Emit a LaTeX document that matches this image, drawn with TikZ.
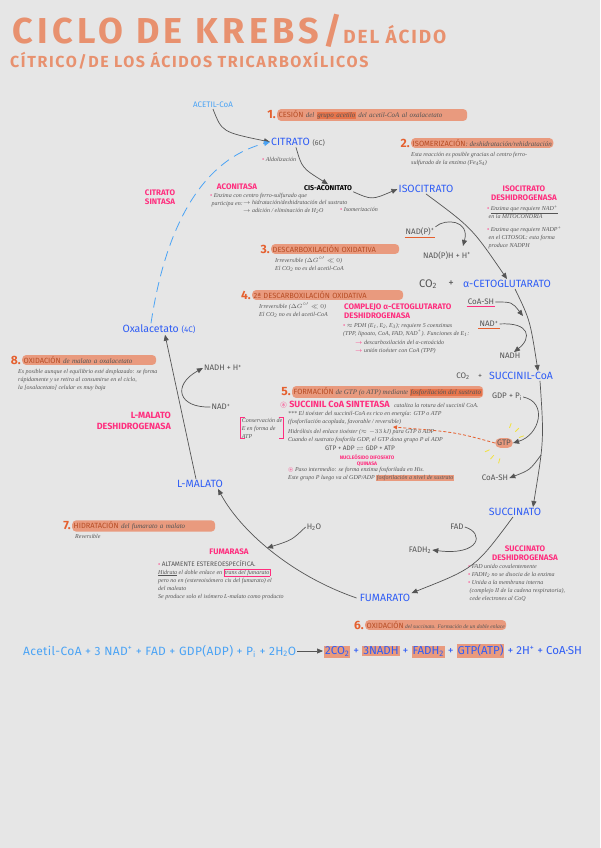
\documentclass[tikz,border=0pt]{standalone}
\usepackage{amssymb}
\usepackage{fontspec}
\setmainfont{Fira Sans}
\newfontfamily\notefont{Liberation Serif}
\usepackage{xcolor}
\usetikzlibrary{arrows.meta, positioning}

\definecolor{paper}{HTML}{E6E6E6}
\definecolor{titleor}{HTML}{E8916F}
\definecolor{stepor}{HTML}{E5602F}
\definecolor{hlsal}{HTML}{E99A7E}
\definecolor{metblue}{HTML}{2F5DF5}
\definecolor{acblue}{HTML}{4AA3F5}
\definecolor{enzpink}{HTML}{FF2E7E}
\definecolor{inkgrey}{HTML}{555555}
\definecolor{gtpyel}{HTML}{F2E23C}

\newcommand{\fsz}[2]{\fontsize{#1}{#2}\selectfont}
\newcommand{\stepcap}[1]{{\normalfont\fsz{7.5}{8}\color{stepor!80!black}#1}}
\newcommand{\pnk}[1]{\textcolor{enzpink}{#1}}
\newcommand{\hlin}[1]{{\fboxsep=0.6pt\colorbox{hlsal}{#1}}}
\newcommand{\hldark}[1]{{\fboxsep=0.6pt\colorbox{stepor!65!hlsal}{#1}}}
\newcommand{\eqhl}[1]{{\fboxsep=1pt\colorbox{hlsal}{#1}}}

\begin{document}
\begin{tikzpicture}[x=1pt, y=-1pt,
  ttl/.style   = {text=titleor, anchor=base west, inner sep=0pt},
  met/.style   = {text=metblue, font=\fsz{10.5}{12}, inner sep=1pt},
  enz/.style   = {text=enzpink, font=\bfseries\fsz{8}{9}, align=center, inner sep=1pt},
  cof/.style   = {text=inkgrey, font=\fsz{8}{9}, inner sep=1pt},
  note/.style  = {text=inkgrey, font=\notefont\itshape\fsz{6}{8},
                  align=left, anchor=north west, inner sep=0pt},
  num/.style   = {text=stepor, font=\bfseries\fsz{12}{12}, anchor=east, inner sep=1pt},
  hl/.style    = {fill=hlsal, rounded corners=4pt, inner sep=1.5pt, align=left,
                  text=inkgrey, font=\notefont\itshape\fsz{7}{8}},
  arr/.style   = {-{Triangle[length=6pt,width=5pt]}, draw=inkgrey, line width=0.7pt},
  dasharr/.style = {-{Triangle[length=6pt,width=5pt]}, draw=acblue,
                  line width=0.8pt, dash pattern=on 10pt off 6pt},
  uline/.style = {stepor, line width=1pt}
]

\fill[paper] (0,0) rectangle (600,848);
\useasboundingbox (0,0) rectangle (600,848);

% title
\node[ttl, font=\bfseries\fsz{36}{36}\addfontfeatures{LetterSpace=12}] (tt1) at (12,44) {CICLO DE KREBS/};
\node[ttl, font=\bfseries\fsz{19}{19}\addfontfeatures{LetterSpace=10}] (tt2) at ([xshift=1pt]tt1.base east) {DEL ÁCIDO};
\node[ttl, font=\bfseries\fsz{16}{16}\addfontfeatures{LetterSpace=10}] (tt3) at (10,68) {CÍTRICO/DE LOS ÁCIDOS TRICARBOXÍLICOS};

% metabolites
\node[met, text=acblue, font=\fsz{8}{9}] (acoa) at (213,105) {ACETIL-CoA};
\node[met] (citr)   at (298,142) {CITRATO {\color{inkgrey}\fsz{7}{8}(6C)}};
\node[cof, text=black, font=\bfseries\fsz{7}{8}] (cisac) at (328,188) {CIS-ACONITATO};
\node[met] (isoc)   at (426,189) {ISOCITRATO};
\node[cof, font=\fsz{11}{12}] (co2a) at (428,284) {CO\textsubscript{2}};
\node[cof, font=\fsz{11}{12}] (plusa) at (451,284) {+};
\node[met] (akg)    at (507,284) {α-CETOGLUTARATO};
\node[cof] (co2b)   at (463,376) {CO\textsubscript{2}};
\node[cof] (plusb)  at (480,376) {+};
\node[met] (succoa) at (521,376) {SUCCINIL-CoA};
\node[met] (succ)   at (515,512) {SUCCINATO};
\node[met] (fum)    at (385,598) {FUMARATO};
\node[met] (lmal)   at (200,484) {L-MALATO};
\node[met] (oxa)    at (159,329) {Oxalacetato {\fsz{8}{9}(4C)}};

% enzymes
\node[enz] (cs)   at (160,197) {CITRATO\\SINTASA};
\node[enz] (acon) at (237,187) {ACONITASA};
\node[enz] (idh)  at (524,193) {ISOCITRATO\\DESHIDROGENASA};
\node[enz, align=left, anchor=north west] (akgdh) at (343,303) {COMPLEJO α-CETOGLUTARATO\\DESHIDROGENASA};
\node[enz, anchor=west, font=\bfseries\fsz{9}{10}] (scs) at (279,405) {$\circledast$ SUCCINIL CoA SINTETASA};
\node[enz, font=\bfseries\fsz{5}{6}] (ndk) at (367,460) {NUCLEÓSIDO DIFOSFATO\\QUINASA};
\node[enz] (sdh)  at (525,553) {SUCCINATO\\DESHIDROGENASA};
\node[enz] (fumz) at (229,552) {FUMARASA};
\node[enz, align=right, anchor=east, font=\bfseries\fsz{9}{11}] (mdh) at (172,421) {L-MALATO\\DESHIDROGENASA};

% cofactors
\node[cof] (nadp)   at (420,232) {NAD(P)\textsuperscript{+}};
\node[cof] (nadph)  at (447,256) {NAD(P)H + H\textsuperscript{+}};
\node[cof] (coash1) at (481,302) {CoA-SH};
\node[cof] (nad1)   at (489,324) {NAD\textsuperscript{+}};
\node[cof] (nadh1)  at (510,356) {NADH};
\node[cof] (gdp)    at (507,397) {GDP + P\textsubscript{i}};
\node[cof, fill=hlsal, rounded corners=5pt, inner sep=2pt] (gtp) at (504,443) {GTP};
\node[cof] (coash2) at (495,478) {CoA-SH};
\node[cof] (fad)    at (457,527) {FAD};
\node[cof] (fadh2)  at (420,550) {FADH\textsubscript{2}};
\node[cof] (h2o)    at (314,527) {H\textsubscript{2}O};
\node[cof] (nad2)   at (221,407) {NAD\textsuperscript{+}};
\node[cof] (nadh2)  at (223,368) {NADH + H\textsuperscript{+}};

\draw[uline] (nadp.south west) -- (nadp.south east);
\draw[uline] (nad1.south west) -- (nad1.south east);
\draw[uline, enzpink] (coash1.south west) -- (coash1.south east);

% steps
\node[num] (n1) at (277,115) {1.};
\node[hl, text width=187pt, right=0pt of n1] (s1) {\stepcap{CESIÓN} del \hldark{grupo acetilo} del acetil-CoA al oxalacetato};
\node[num] (n2) at (411,143) {2.};
\node[hl, right=0pt of n2] (s2) {\stepcap{ISOMERIZACIÓN}: deshidratación/rehidratación};
\node[note] (s2n) at (411,152) {Esta reacción es posible gracias al centro ferro-\\sulfurado de la enzima (Fe\textsubscript{4}S\textsubscript{4})};
\node[num] (n3) at (271,249) {3.};
\node[hl, text width=125pt, right=0pt of n3] (s3) {\stepcap{DESCARBOXILACIÓN OXIDATIVA}};
\node[note] (s3n) at (275,257) {Irreversible ($\Delta G^{\circ\prime}\ll 0$)\\El CO\textsubscript{2} no es del acetil-CoA};
\node[num] (n4) at (252,295) {4.};
\node[hl, text width=148pt, right=0pt of n4] (s4) {\stepcap{2ª DESCARBOXILACIÓN OXIDATIVA}};
\node[note] (s4n) at (259,303) {Irreversible ($\Delta G^{\circ\prime}\ll 0$)\\El CO\textsubscript{2} no es del acetil-CoA};
\node[num] (n5) at (292,392) {5.};
\node[hl, right=0pt of n5] (s5) {\stepcap{FORMACIÓN} de GTP (o ATP) mediante \hldark{fosforilación del sustrato}};
\node[num] (n6) at (365,625) {6.};
\node[hl, font=\notefont\itshape\fsz{5.5}{6}, right=0pt of n6] (s6) {\stepcap{OXIDACIÓN} del succinato. Formación de un doble enlace};
\node[num] (n7) at (72,526) {7.};
\node[hl, text width=140pt, right=0pt of n7] (s7) {\stepcap{HIDRATACIÓN} del fumarato a malato};
\node[note] (s7n) at (75,534) {Reversible};
\node[num] (n8) at (22,360) {8.};
\node[hl, text width=131pt, right=0pt of n8] (s8) {\stepcap{OXIDACIÓN} de malato a oxalacetato};
\node[note] (s8n) at (18,369) {Es posible aunque el equilibrio esté desplazado: se forma\\rápidamente y se retira al consumirse en el ciclo,\\la [oxalacetato] celular es muy baja};

% enzyme notes
\node[note] (citn) at (262,157) {\pnk{\textbullet} Aldolización};
\node[note] (acn1) at (210,193) {\pnk{\textbullet} Enzima con centro ferro-sulfurado que\\ \ participa en:};
\node[note] (acn2) at (243,200) {$\rightarrow$ hidratación/deshidratación del sustrato\\$\rightarrow$ adición / eliminación de H\textsubscript{2}O};
\node[note] (acn3) at (340,207) {\pnk{\textbullet} Isomerización};
\node[note] (idn1) at (487,205) {\pnk{\textbullet} \underline{Enzima que requiere NAD\textsuperscript{+}}\\ \ en la MITOCONDRIA};
\node[note] (idn2) at (487,226) {\pnk{\textbullet} Enzima que requiere NADP\textsuperscript{+}\\ \ en el CITOSOL: esta forma\\ \ produce NADPH};
\node[note] (akn1) at (343,323) {\pnk{\textbullet} $\approx$ PDH (E\textsubscript{1}, E\textsubscript{2}, E\textsubscript{3}); requiere 5 coenzimas\\(TPP, lipoato, CoA, FAD, NAD\textsuperscript{+}). Funciones de E\textsubscript{1}:};
\node[note] (akn2) at (355,340) {\pnk{$\rightarrow$} descarboxilación del α-cetoácido\\\pnk{$\rightarrow$} unión tioéster con CoA (TPP)};
\node[note, anchor=west] (scsn) at ([xshift=3pt]scs.east) {cataliza la rotura del succinil CoA.};
\node[note] (scn1) at (288,411) {*** El tioéster del succinil-CoA es rico en energía: GTP o ATP\\(fosforilación acoplada, favorable / reversible)};
\node[note] (scn2) at (288,429) {Hidrólisis del enlace tioéster ($\approx -33$ kJ) para GTP o ADP\\Cuando el sustrato fosforila GDP, el GTP dona grupo P al ADP};
\node[cof, font=\fsz{6.5}{7}] (ndkr) at (360,448) {GTP + ADP $\rightleftharpoons$ GDP + ATP};
\node[note] (scn3) at (288,467) {\pnk{$\circledast$} Paso intermedio: se forma enzima fosforilada en His.\\Este grupo P luego va al GDP/ADP \hlin{fosforilación a nivel de sustrato}};
\node[note, anchor=center] (cons) at (262,428) {Conservación de\\E en forma de\\ATP};
\draw[enzpink, line width=0.6pt] ([xshift=3pt]cons.north west) -- ([xshift=-1pt]cons.north west)
  -- ([xshift=-1pt]cons.south west) -- ([xshift=3pt]cons.south west);
\draw[enzpink, line width=0.6pt] ([xshift=-3pt]cons.north east) -- ([xshift=1pt]cons.north east)
  -- ([xshift=1pt]cons.south east) -- ([xshift=-3pt]cons.south east);
\node[note] (sdn) at (468,564) {\pnk{\textbullet} FAD unido covalentemente\\\pnk{\textbullet} FADH\textsubscript{2} no se disocia de la enzima\\\pnk{\textbullet} Unida a la membrana interna\\ \ (complejo II de la cadena respiratoria),\\ \ cede electrones al CoQ};
\node[note] (fun) at (158,560) {\pnk{\textbullet} {\normalfont\fsz{6.5}{7}ALTAMENTE ESTEREOESPECÍFICA.}\\\underline{Hidrata} el doble enlace en {\fboxsep=0.5pt\fcolorbox{enzpink}{paper}{trans del fumarato}}\\pero no en (estereoisómero cis del fumarato) el\\del maleato\\Se produce solo el isómero L-malato como producto};

% cycle
\draw[arr] (acoa.south) .. controls (222,132) .. (citr.west);
\draw[dasharr] ([xshift=-8pt]oxa.north) .. controls (165,230) and (200,160) .. (citr.west);
\draw[arr] ([xshift=-2pt]citr.south) .. controls (302,168) .. (cisac.north);
\draw[arr] (cisac.south east) .. controls (372,200) .. (isoc.west);
\draw[arr] (isoc.south) .. controls (472,228) .. (akg.north);
\coordinate (nadpT) at (463,246);
\draw[arr] (nadp.north east) .. controls (445,218) and (470,220) .. (nadpT);
\draw[arr] ([xshift=8pt]akg.south) .. controls (530,320) .. ([xshift=17pt]succoa.north);
\coordinate (coaT1) at (523,316);
\draw[arr] (coash1.east) .. controls (512,302) .. (coaT1);
\draw[arr] (nad1.east) .. controls (530,322) and (532,338) .. ([xshift=4pt]nadh1.north);
\draw[arr] ([xshift=19pt]succoa.south) .. controls (544,440) .. ([xshift=18pt]succ.north);
\draw[arr] (gdp.east) .. controls (548,402) and (540,435) .. (gtp.east);
\coordinate (coaJ) at (541,455);
\draw[arr] (coaJ) .. controls (530,470) .. (coash2.east);
\coordinate (gtpT) at (393,427);
\draw[-{Triangle[length=4pt,width=4pt]}, stepor, densely dashed, line width=0.8pt]
  (gtp.west) .. controls (455,432) .. (gtpT);
\foreach \a in {-70,-45,-20,105,130,155}
  \draw[gtpyel, line width=0.8pt] (gtp.center) ++(\a:16) -- ++(\a:5);
\draw[arr] ([xshift=-2pt]succ.south) .. controls (475,568) .. (fum.north east);
\draw[arr] (fad.east) .. controls (485,533) and (480,556) .. (fadh2.east);
\draw[arr] ([xshift=-2pt]fum.west) .. controls (290,575) and (240,530) .. ([xshift=18pt]lmal.south);
\coordinate (h2oT) at (267,548);
\draw[arr] (h2o.west) .. controls (292,540) .. (h2oT);
\draw[arr] ([xshift=-4pt]lmal.north) -- ([xshift=6pt]oxa.south);
\draw[arr] (nad2.west) .. controls (178,408) and (172,385) .. (nadh2.west);

% global equation
\node[anchor=west, text=acblue, font=\fsz{12}{13}\addfontfeatures{LetterSpace=3}, inner sep=1pt] (eqL) at (22,651)
  {Acetil-CoA + 3 NAD\textsuperscript{+} + FAD + GDP(ADP) + P\textsubscript{i} + 2H\textsubscript{2}O};
\node[anchor=west, text=metblue, font=\fsz{11.5}{12}, inner sep=1pt] (eqR) at (323,651)
  {\eqhl{2CO\textsubscript{2}} + \eqhl{3NADH} + \eqhl{FADH\textsubscript{2}} + \eqhl{GTP(ATP)} + 2H\textsuperscript{+} + CoA·SH};
\draw[arr] (eqL.east) -- (eqR.west);

\end{tikzpicture}
\end{document}
